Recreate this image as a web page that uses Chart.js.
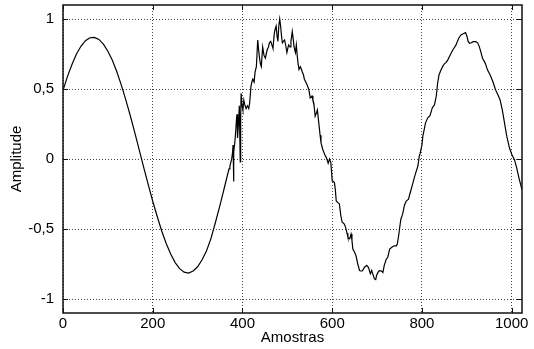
<!DOCTYPE html>
<html>
<head>
<meta charset="utf-8">
<script src="https://cdn.jsdelivr.net/npm/chart.js@4/dist/chart.umd.min.js"></script>
<style>
  html, body { margin: 0; padding: 0; background: #fff; }
  #wrap { width: 534px; height: 349px; }
</style>
</head>
<body>
<div id="wrap"><canvas id="chart"></canvas></div>
<script>
// amostras (eixo x) e amplitude
const samples = [
    0, 10, 20, 30, 40, 50, 60, 70, 80, 90, 100, 110, 120, 130, 140, 150, 160, 170, 180, 190,
    200, 210, 220, 230, 240, 250, 260, 270, 280, 290, 300, 310, 320, 330, 340, 350, 360, 370,
    372, 376, 378, 379, 380, 381, 383, 385, 387, 388, 389, 391, 393, 395, 396, 397, 399,
    401, 403, 405, 408, 411, 414, 416, 419, 421, 423, 426, 428, 431, 434, 436, 438, 440,
    442, 445, 448, 451, 453, 455, 458, 460, 463, 466, 468, 471, 473, 475, 477, 479, 481,
    483, 485, 487, 489, 491, 494, 497, 499, 501, 503, 506, 508, 511, 513, 515, 518, 520,
    522, 524, 526, 529, 531, 533, 536, 538, 541, 544, 548, 551, 553, 555, 557, 559, 562,
    565, 567, 570, 573, 575, 579, 584, 587, 589, 591, 594, 597, 600, 603, 605, 607, 609,
    612, 616, 619, 622, 627, 630, 633, 635, 639, 642, 644, 646, 649, 653, 657, 661, 664,
    667, 672, 677, 681, 685, 688, 691, 694, 697, 699, 702, 705, 710, 713, 716, 720, 724,
    728, 733, 738, 743, 745, 748, 750, 753, 757, 761, 765, 770, 773, 776, 780, 783, 787,
    791, 794, 796, 800, 802, 805, 808, 813, 818, 823, 828, 832, 835, 838, 841, 846, 850,
    854, 858, 861, 865, 869, 872, 876, 879, 882, 887, 892, 897, 900, 903, 906, 910, 914,
    917, 920, 924, 927, 930, 935, 941, 946, 952, 958, 964, 969, 974, 979, 984, 989, 995,
    1001, 1006, 1011, 1017, 1023
];
const amplitude = [
    0.49, 0.59, 0.675, 0.75, 0.805, 0.845, 0.866, 0.869, 0.854, 0.82, 0.77, 0.705, 0.623, 0.528, 0.422, 0.309, 0.188, 0.064, -0.061, -0.183,
    -0.302, -0.411, -0.514, -0.604, -0.679, -0.74, -0.783, -0.808, -0.815, -0.80, -0.77, -0.72, -0.655, -0.565, -0.45, -0.33, -0.20, -0.07,
    -0.05, 0.00, 0.05, 0.10, -0.16, 0.05, 0.12, 0.20, 0.30, 0.32, 0.15, 0.25, 0.38, -0.02, 0.30, 0.47, 0.38,
    0.35, 0.42, 0.39, 0.36, 0.38, 0.36, 0.40, 0.52, 0.55, 0.57, 0.55, 0.62, 0.66, 0.85, 0.78, 0.72, 0.68,
    0.66, 0.80, 0.74, 0.72, 0.75, 0.78, 0.80, 0.83, 0.84, 0.81, 0.79, 0.90, 0.93, 0.95, 0.88, 0.84, 0.95,
    1.00, 0.95, 0.88, 0.83, 0.84, 0.85, 0.80, 0.76, 0.79, 0.815, 0.80, 0.84, 0.91, 0.86, 0.80, 0.76, 0.815,
    0.74, 0.68, 0.64, 0.66, 0.645, 0.625, 0.60, 0.57, 0.55, 0.53, 0.495, 0.436, 0.44, 0.45, 0.42, 0.40, 0.305,
    0.33, 0.35, 0.26, 0.17, 0.116, 0.068, 0.026, 0.01, -0.01, -0.03, 0.00, -0.026, -0.157, -0.16, -0.17, -0.22, -0.30,
    -0.31, -0.32, -0.40, -0.45, -0.465, -0.49, -0.53, -0.56, -0.57, -0.536, -0.58, -0.643, -0.66, -0.69, -0.75, -0.797, -0.80,
    -0.80, -0.773, -0.76, -0.775, -0.82, -0.797, -0.826, -0.856, -0.861, -0.83, -0.81, -0.797, -0.80, -0.81, -0.76, -0.72, -0.70,
    -0.643, -0.63, -0.62, -0.62, -0.607, -0.55, -0.50, -0.43, -0.394, -0.33, -0.30, -0.287, -0.25, -0.216, -0.17, -0.133, -0.09,
    -0.05, 0.02, 0.04, 0.10, 0.163, 0.21, 0.258, 0.294, 0.31, 0.365, 0.388, 0.45, 0.543, 0.60, 0.625, 0.66, 0.68,
    0.69, 0.71, 0.73, 0.755, 0.78, 0.795, 0.815, 0.84, 0.863, 0.886, 0.895, 0.903, 0.88, 0.84, 0.827, 0.83, 0.838,
    0.838, 0.838, 0.83, 0.81, 0.78, 0.72, 0.685, 0.637, 0.60, 0.554, 0.495, 0.46, 0.424, 0.353, 0.258, 0.163, 0.08,
    0.026, -0.003, -0.062, -0.145, -0.22
];

const xTicks = [0, 200, 400, 600, 800, 1000];
const xTickLabels = ['0', '200', '400', '600', '800', '1000'];
const yTicks = [-1, -0.5, 0, 0.5, 1];
const yTickLabels = ['-1', '-0,5', '0', '0,5', '1'];

const FONT = 'Liberation Sans, Arial, sans-serif';

// moldura e marcas internas (estilo matlab)
const boxPlugin = {
    id: 'box',
    afterDatasetsDraw(chart) {
        const {ctx, chartArea: a, scales} = chart;
        ctx.save();
        ctx.strokeStyle = '#111';
        ctx.lineWidth = 1.5;
        ctx.strokeRect(a.left, a.top, a.right - a.left, a.bottom - a.top);
        ctx.lineWidth = 1;
        ctx.beginPath();
        xTicks.forEach(v => {
            const px = Math.round(scales.x.getPixelForValue(v)) + 0.5;
            ctx.moveTo(px, a.bottom); ctx.lineTo(px, a.bottom - 5);
            ctx.moveTo(px, a.top); ctx.lineTo(px, a.top + 5);
        });
        yTicks.forEach(v => {
            const py = Math.round(scales.y.getPixelForValue(v)) + 0.5;
            ctx.moveTo(a.left, py); ctx.lineTo(a.left + 5, py);
            ctx.moveTo(a.right, py); ctx.lineTo(a.right - 5, py);
        });
        ctx.stroke();
        ctx.restore();
    }
};

const points = samples.map((s, i) => ({x: s, y: amplitude[i]}));

new Chart(document.getElementById('chart'), {
    type: 'line',
    data: {
        datasets: [{
            data: points,
            borderColor: '#000',
            borderWidth: 1.2,
            pointRadius: 0,
            tension: 0,
            fill: false
        }]
    },
    options: {
        responsive: true,
        maintainAspectRatio: false,
        animation: false,
        layout: { padding: { left: 0, right: 12, top: 5, bottom: 0 } },
        plugins: { legend: { display: false }, tooltip: { enabled: false } },
        scales: {
            x: {
                type: 'linear',
                min: 0,
                max: 1023,
                afterBuildTicks: s => { s.ticks = xTicks.map(v => ({value: v})); },
                afterFit: s => { s.height = 36; s.paddingLeft = 0; s.paddingRight = 0; },
                ticks: {
                    color: '#000', font: { family: FONT, size: 15 }, padding: 2, maxRotation: 0,
                    callback: v => xTickLabels[xTicks.indexOf(v)]
                },
                grid: { color: '#444', lineWidth: 1, drawTicks: false },
                border: { display: false, dash: [1, 2] },
                title: {
                    display: true, text: 'Amostras', color: '#000',
                    font: { family: FONT, size: 15 }, padding: { top: 0, bottom: 2 }
                }
            },
            y: {
                min: -1.1,
                max: 1.1,
                afterBuildTicks: s => { s.ticks = yTicks.map(v => ({value: v})); },
                afterFit: s => { s.width = 63; s.paddingTop = 0; s.paddingBottom = 0; },
                ticks: {
                    color: '#000', font: { family: FONT, size: 15 }, padding: 9,
                    callback: v => yTickLabels[yTicks.indexOf(v)]
                },
                grid: { color: '#444', lineWidth: 1, drawTicks: false },
                border: { display: false, dash: [1, 2] },
                title: {
                    display: true, text: 'Amplitude', color: '#000',
                    font: { family: FONT, size: 15 }, padding: { top: 8, bottom: 0 }
                }
            }
        }
    },
    plugins: [boxPlugin]
});
</script>
</body>
</html>
